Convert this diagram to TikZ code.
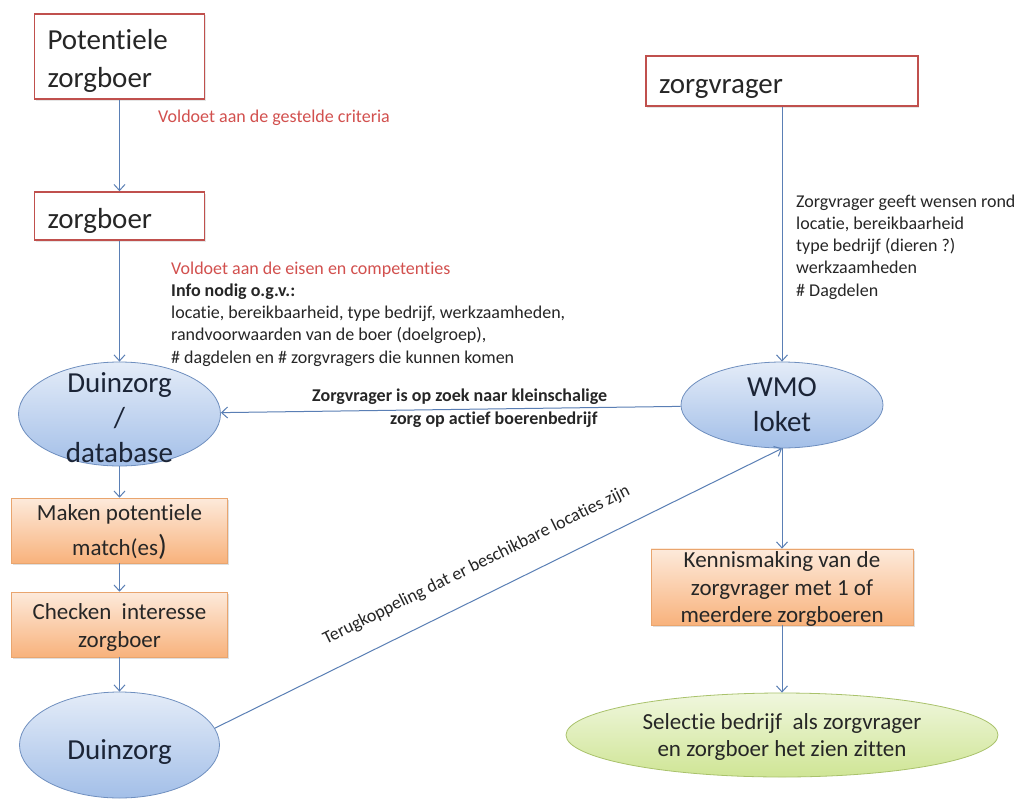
\documentclass[tikz,border=0pt]{standalone}
\usepackage{fontspec}
\setmainfont{Carlito}[Ligatures={NoCommon,NoContextual}]
\usetikzlibrary{arrows.meta,shapes.geometric,shadows}
\definecolor{redb}{HTML}{C0504D}
\definecolor{redt}{HTML}{D2504E}
\definecolor{arrowc}{HTML}{5A7FB5}
\definecolor{txt}{HTML}{262626}
\definecolor{navy}{HTML}{1B2436}
\definecolor{blueT}{HTML}{E4ECF8}
\definecolor{blueB}{HTML}{A3BFE8}
\definecolor{blueD}{HTML}{6F8FBF}
\definecolor{orT}{HTML}{FDEADB}
\definecolor{orB}{HTML}{F8B27C}
\definecolor{orD}{HTML}{E9A56E}
\definecolor{grT}{HTML}{F0F7DE}
\definecolor{grB}{HTML}{CFE595}
\definecolor{grD}{HTML}{A9C26B}
\begin{document}
\begin{tikzpicture}[x=1pt,y=-1pt,
  redbox/.style={rectangle, draw=redb, line width=1.6pt, fill=white, inner xsep=13pt, inner ysep=0pt,
    align=left, font=\fontsize{29}{37}\selectfont, text=txt, text height=26pt,
    drop shadow={shadow xshift=1pt, shadow yshift=-1.5pt, opacity=0.2}},
  orbox/.style={rectangle, draw=orD, line width=0.6pt, top color=orT, bottom color=orB, inner sep=0pt,
    align=center, font=\fontsize{23}{28}\selectfont, text=txt,
    drop shadow={shadow xshift=1.5pt, shadow yshift=-2pt, opacity=0.25}},
  bell/.style={ellipse, draw=blueD, line width=0.8pt, top color=blueT, bottom color=blueB, inner sep=0pt},
  gell/.style={ellipse, draw=grD, line width=0.8pt, top color=grT, bottom color=grB, inner sep=0pt,
    align=center, font=\fontsize{23}{27}\selectfont, text=txt},
  ltext/.style={font=\fontsize{29}{35}\selectfont, text=navy, align=center, inner sep=0pt},
  arr/.style={draw=arrowc, line width=1pt, -{Straight Barb[length=6pt,width=11pt]}},
  lbl/.style={font=\fontsize{18}{22.2}\selectfont, text=txt, align=left, inner sep=0pt}]
\useasboundingbox (0,0) rectangle (1022,800);
\fill[white] (0,0) rectangle (1022,800);

% red boxes
\node[redbox, minimum width=170pt, minimum height=85pt, text width=144pt, text depth=39pt] (pz) at (119.5,56.5) {Potentiele\\zorgboer};
\node[redbox, minimum width=170pt, minimum height=48pt, text width=144pt, text depth=2pt] (zb) at (119.5,216) {zorgboer};
\node[redbox, minimum width=272pt, minimum height=50pt, text width=246pt, text depth=2pt] (zv) at (782,81) {zorgvrager};

% ellipses
\node[bell, minimum width=202pt, minimum height=104pt,
  label={[ltext,yshift=-4pt]center:{Duinzorg\\/\\database}}] (db) at (119.5,414) {};
\node[bell, minimum width=202pt, minimum height=86pt,
  label={[ltext]center:{WMO\\loket}}] (wmo) at (782,405) {};
\node[bell, minimum width=200pt, minimum height=106pt,
  label={[ltext,yshift=-7pt]center:{Duinzorg}}] (dz) at (119.5,745) {};
\node[gell, minimum width=432pt, minimum height=84pt, text height=46pt, text depth=2.2pt] (sel) at (782,735)
  {Selectie bedrijf~ als zorgvrager\\en zorgboer het zien zitten};

% orange boxes
\node[orbox, minimum width=216pt, minimum height=65pt, font=\fontsize{23}{35}\selectfont, text height=54pt, text depth=3.2pt] (mk) at (119.5,530.5)
  {Maken potentiele\\match(es{\fontsize{29}{35}\selectfont)}};
\node[orbox, minimum width=216pt, minimum height=65pt, text height=47pt, text depth=0.2pt] (ck) at (119.5,624.5) {Checken~ interesse\\zorgboer};
\node[orbox, minimum width=262pt, minimum height=76pt, font=\fontsize{23}{27.5}\selectfont, text height=74pt, text depth=2.2pt] (kn) at (782,587)
  {Kennismaking van de\\zorgvrager met 1 of\\meerdere zorgboeren};

% connectors
\draw[arr] (pz) -- (zb);
\draw[arr] (zb) -- (db);
\draw[arr] (zv) -- (wmo);
\draw[arr] (wmo) -- (db);
\draw[arr] (db) -- (mk);
\draw[arr] (mk) -- (ck);
\draw[arr] (ck) -- (dz);
\draw[arr] (dz.10) -- node[lbl, sloped, pos=0.485, above=22pt] {Terugkoppeling dat er beschikbare locaties zijn} (wmo.south);
\draw[arr] (wmo) -- (kn);
\draw[arr] (kn) -- (sel);

% labels
\node[lbl, text=redt, anchor=west] at (158,118) {Voldoet aan de gestelde criteria};
\node[lbl, anchor=west] at (171,314) {\textcolor{redt}{Voldoet aan de eisen en competenties}\\\textbf{Info nodig o.g.v.:}\\locatie, bereikbaarheid, type bedrijf, werkzaamheden,\\randvoorwaarden van de boer (doelgroep),\\\# dagdelen en \# zorgvragers die kunnen komen};
\node[lbl, anchor=west] at (796,247) {Zorgvrager geeft wensen rond\\locatie, bereikbaarheid\\type bedrijf (dieren ?)\\werkzaamheden\\\# Dagdelen};
\node[lbl, font=\fontsize{18}{23}\selectfont\bfseries, anchor=west] at (312,408)
  {Zorgvrager is op zoek naar kleinschalige\\\hspace*{78pt}zorg op actief boerenbedrijf};
\end{tikzpicture}
\end{document}
